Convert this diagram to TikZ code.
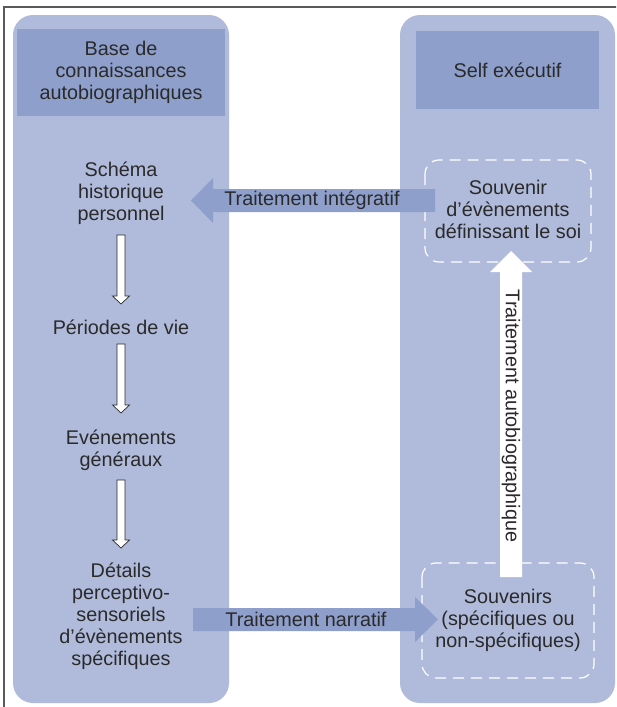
\documentclass[tikz,border=0pt]{standalone}
\usepackage{fontspec}
\setmainfont{Liberation Sans}
\definecolor{panel}{HTML}{B0BBDB}
\definecolor{headc}{HTML}{8E9FCB}
\definecolor{ink}{HTML}{2A2A2A}
\definecolor{framec}{HTML}{5A5A5A}
\newcommand{\whitedown}[3]{%
  \draw[downarrow] (#1-4,#2) -- (#1+4,#2) -- (#1+4,#3-8) -- (#1+8.5,#3-8) -- (#1,#3) -- (#1-8.5,#3-8) -- (#1-4,#3-8) -- cycle;}
\begin{document}
\begin{tikzpicture}[x=1pt,y=-1pt,
  txt/.style={font=\fontsize{19.8}{22}\selectfont, text=ink, align=center, inner sep=0pt},
  panelbox/.style={fill=panel, rounded corners=20pt},
  headbox/.style={fill=headc, inner sep=0pt},
  dashbox/.style={draw=white, dash pattern=on 11pt off 7pt, line width=1.2pt, rounded corners=14pt, inner sep=0pt},
  bigarrow/.style={fill=headc},
  whitearrow/.style={fill=white},
  downarrow/.style={fill=white, draw=ink, line width=0.7pt},
]
\useasboundingbox (0,0) rectangle (616,707);
\begin{scope}
\clip (0,0) rectangle (616,707);
\fill[white] (0,0) rectangle (616,707);
\draw[framec, line width=1.5pt] (4,7) rectangle (680,760);
% panels
\fill[panelbox] (13,15) rectangle (229,703);
\fill[panelbox] (400,15) rectangle (615,703);
% headers
\node[headbox, minimum width=208pt, minimum height=87pt] (kbh) at (121,72.5) {};
\node[txt] (kb) at (kbh.center) {Base de\\connaissances\\autobiographiques};
\node[headbox, minimum width=183pt, minimum height=78pt] (selfh) at (507.5,70) {};
\node[txt] (self) at (selfh.center) {Self exécutif};
% left column
\node[txt] (schema) at (121,193) {Schéma\\historique\\personnel};
\node[txt] (periodes) at (121,327) {Périodes de vie};
\node[txt] (evenements) at (121,450) {Evénements\\généraux};
\node[txt] (details) at (121,616) {Détails\\perceptivo-\\sensoriels\\d’évènements\\spécifiques};
\whitedown{121}{235}{304}
\whitedown{121}{344}{413}
\whitedown{121}{480}{548}
% dashed boxes
\draw[dashbox] (425,160) rectangle (591,262);
\node[txt] (defsoi) at (508,209) {Souvenir\\d’évènements\\définissant le soi};
\draw[dashbox] (422,563) rectangle (594,678);
\node[txt] (souv) at (508,620) {Souvenirs\\(spécifiques ou\\non-spécifiques)};
% big arrows
\fill[bigarrow] (435,189) -- (213,189) -- (213,178) -- (191,200.5) -- (213,223) -- (213,212) -- (435,212) -- cycle;
\node[txt] (integ) at (312,200.5) {Traitement intégratif};
\fill[bigarrow] (193,608) -- (415,608) -- (415,597) -- (438,619.5) -- (415,642) -- (415,631) -- (193,631) -- cycle;
\node[txt] (narr) at (306,619.5) {Traitement narratif};
\fill[whitearrow] (500,577) -- (500,272) -- (490,272) -- (511,251) -- (532,272) -- (522,272) -- (522,577) -- cycle;
\node[txt, rotate=-90] (autob) at (511,416) {Traitement autobiographique};
\end{scope}
\end{tikzpicture}
\end{document}
